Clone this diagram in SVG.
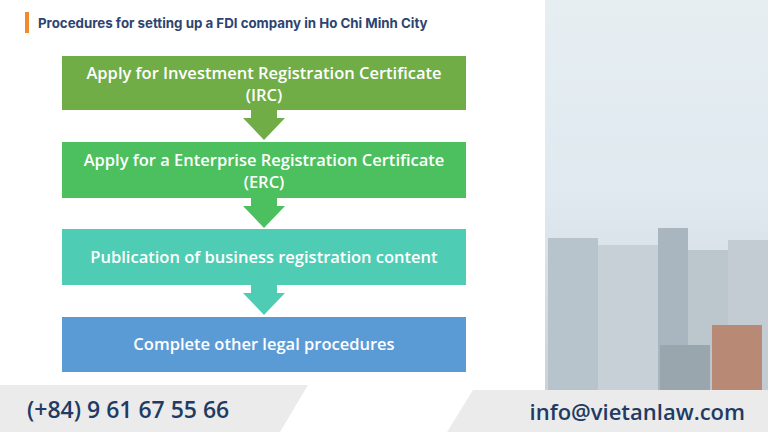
<svg xmlns="http://www.w3.org/2000/svg" width="768" height="432" viewBox="0 0 768 432">
<defs>
<linearGradient id="sky" x1="0" y1="0" x2="0" y2="1"><stop offset="0" stop-color="#e6eef2"/><stop offset="0.5" stop-color="#dfe9ef"/><stop offset="1" stop-color="#c9d2d8"/></linearGradient>
</defs>
<style>
.box text{font-family:"Open Sans","Liberation Sans",sans-serif;font-weight:600;font-size:16.5px;fill:#fff;text-anchor:middle}
.arr{fill:#70ad47}
.ft{font-family:"Open Sans","Liberation Sans",sans-serif;font-size:22px;fill:#1f3b64;font-weight:600}
</style>
<rect width="768" height="432" fill="#fff"/>
<g id="photo">
<rect x="545" y="0" width="223" height="395" fill="url(#sky)"/>
<g fill="#b8c4cc">
<rect x="548" y="238" width="50" height="157"/>
<rect x="598" y="245" width="60" height="150" fill="#c7d0d6"/>
<rect x="658" y="228" width="30" height="167" fill="#aab6bf"/>
<rect x="688" y="250" width="40" height="145" fill="#bcc6cd"/>
<rect x="728" y="240" width="40" height="155" fill="#c2ccd2"/>
<rect x="712" y="325" width="50" height="70" fill="#b88a76"/>
<rect x="660" y="345" width="50" height="50" fill="#9aa6ae"/>
</g>
</g>
<g id="title">
<rect x="25" y="12" width="4" height="21" fill="#f08a2c"/>
<text x="38" y="28" font-family="Inter,'Liberation Sans',sans-serif" font-weight="bold" font-size="13.3px" fill="#2d4470">Procedures for setting up a FDI company in Ho Chi Minh City</text>
</g>
<g id="connectors">
<polygon class="arr" points="251,110 277,110 277,118 285,118 264,140 243,118 251,118"/>
<polygon points="251,198 277,198 277,206 285,206 264,228 243,206 251,206" fill="#4cbf5e"/>
<polygon points="251,285 277,285 277,293 285,293 264,315 243,293 251,293" fill="#4ecdb4"/>
</g>
<g id="n1" class="box"><rect x="62" y="56" width="404" height="54" fill="#70ad47"/><text x="264" y="79">Apply for Investment Registration Certificate</text><text x="264" y="101">(IRC)</text></g>
<g id="n2" class="box"><rect x="62" y="142" width="404" height="56" fill="#4cbf5e"/><text x="264" y="166">Apply for a Enterprise Registration Certificate</text><text x="264" y="188">(ERC)</text></g>
<g id="n3" class="box"><rect x="62" y="229" width="404" height="56" fill="#4ecdb4"/><text x="264" y="263">Publication of business registration content</text></g>
<g id="n4" class="box"><rect x="62" y="317" width="404" height="55" fill="#5b9bd5"/><text x="264" y="350">Complete other legal procedures</text></g>
<g id="footer">
<polygon points="0,385 308,385 280,432 0,432" fill="#ebebeb"/>
<polygon points="473,390 768,390 768,432 447,432" fill="#ebebeb"/>
<text class="ft" x="27" y="418" font-size="23px" style="font-size:23px">(+84) 9 61 67 55 66</text>
<text class="ft" x="745" y="420" text-anchor="end">info@vietanlaw.com</text>
</g>
</svg>
